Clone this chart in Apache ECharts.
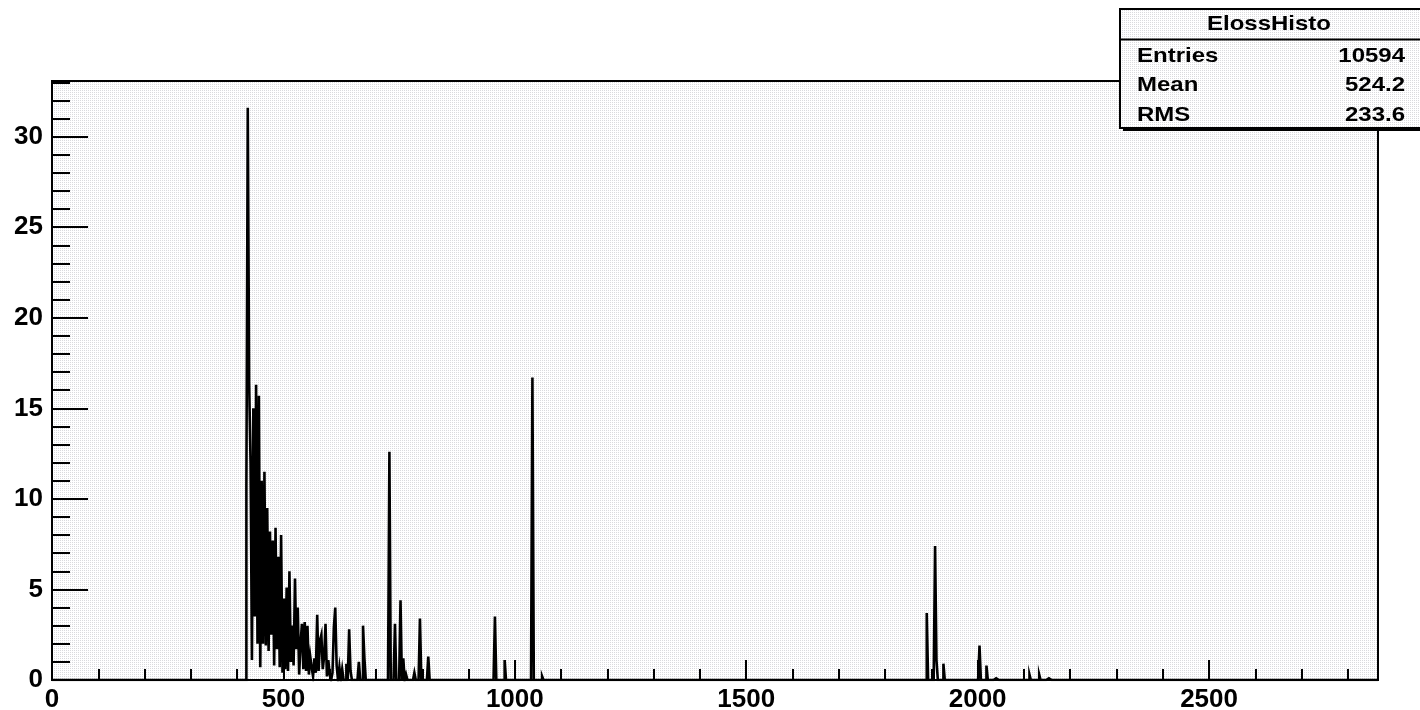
<!DOCTYPE html>
<html>
<head>
<meta charset="utf-8">
<script src="https://cdn.jsdelivr.net/npm/echarts@6/dist/echarts.min.js"></script>
<style>
  html, body { margin: 0; padding: 0; background: #ffffff; }
  #chart { width: 1420px; height: 710px; }
</style>
</head>
<body>
<div id="chart"></div>
<script>
// ElossHisto: fixed-width bins over [0, X_MAX], weighted bin contents
const X_MAX = 2865;
const BIN_WIDTH = 3;
const Y_MAX = 33.075;

// Contiguous block of filled bins, first bin index DENSE_FIRST_BIN
const DENSE_FIRST_BIN = 140;
const denseContents = [
  10.8, 31.6, 16.4, 12.0, 1.1, 15.0, 3.5, 16.3, 2.0, 15.7,
  0.7, 11.0, 2.0, 11.5, 1.9, 9.5, 1.6, 8.2, 2.5, 7.7,
  0.8, 8.4, 1.7, 6.8, 0.7, 8.0, 0.4, 4.5, 0.6, 5.1,
  0.5, 6.0, 1.0, 3.0, 0.8, 5.6, 1.7, 4.0, 0.3, 2.0,
  3.1, 0.6, 3.2, 0.5, 3.0, 0.3, 1.3, 0.7, 0.2, 1.2,
  0.4, 3.6, 0.5, 2.2, 2.5, 0.6, 1.3, 3.1, 0.2, 1.1,
  0.3, 0.0, 0.4, 2.9, 4.0, 0.8, 0.0, 0.7, 0.0, 0.6,
  0.0, 0.0, 0.9, 0.0, 2.8, 0.5, 0.0, 0.0, 0.0, 0.0,
  0.0, 1.0, 0.0, 0.0, 3.0, 1.2
];

// Isolated filled bins further out: energy loss and bin content
const peakEloss = [
  731, 742, 755, 761, 767, 783, 797, 813,
  959, 980, 1039, 1061,
  1891, 1908, 1911, 1926, 2004, 2019, 2037, 2114, 2133, 2152
];
const peakContent = [
  12.6, 3.1, 4.4, 1.2, 0.3, 0.4, 3.4, 1.3,
  3.5, 1.1, 16.7, 0.2,
  3.7, 7.4, 1.1, 0.9, 1.9, 0.8, 0.1, 0.3, 0.3, 0.1
];

// Statistics box
const statTitle = 'ElossHisto';
const statNames = ['Entries', 'Mean', 'RMS'];
const statValues = ['10594', '524.2', '233.6'];

// Build the full bin array and the step outline
const nBins = Math.round(X_MAX / BIN_WIDTH);
const contents = new Array(nBins).fill(0);
denseContents.forEach((v, i) => { contents[DENSE_FIRST_BIN + i] = v; });
peakEloss.forEach((x, i) => { contents[Math.floor(x / BIN_WIDTH)] = peakContent[i]; });
const stepData = contents.map((v, k) => [k * BIN_WIDTH, v]);
stepData.push([nBins * BIN_WIDTH, 0]);

// Fine dotted fill used for the frame and the stats box
const dot = document.createElement('canvas');
dot.width = 2; dot.height = 2;
const g = dot.getContext('2d');
g.fillStyle = '#ffffff'; g.fillRect(0, 0, 2, 2);
g.fillStyle = '#dadadd'; g.fillRect(0, 0, 1, 1);
const dotted = { image: dot, repeat: 'repeat' };

const FONT = 'Liberation Sans';
const BOX_FONT = 'bold 20.5px "Liberation Sans"';
const BOX_STRETCH = 1.17;

const chart = echarts.init(document.getElementById('chart'), null, { renderer: 'canvas' });

const box = { x: 1120, y: 9, w: 305, h: 119 };

chart.setOption({
  animation: false,
  backgroundColor: '#ffffff',
  grid: {
    left: 52, right: 42, top: 81, bottom: 30,
    containLabel: false,
    outerBoundsMode: 'none',
    show: true,
    backgroundColor: dotted,
    borderColor: '#000000',
    borderWidth: 2
  },
  xAxis: [
    {
      type: 'value', min: 0, max: X_MAX, interval: 500, position: 'bottom',
      axisLine: { show: true, onZero: false, lineStyle: { color: '#000', width: 2 } },
      axisTick: { show: true, inside: true, length: 20, lineStyle: { color: '#000', width: 2 } },
      axisLabel: {
        show: true, margin: 7, color: '#000', fontFamily: FONT, fontWeight: 'bold', fontSize: 26,
        showMaxLabel: false,
        formatter: v => (v % 500 === 0 ? String(v) : '')
      },
      splitLine: { show: false }
    },
    {
      type: 'value', min: 0, max: X_MAX, interval: 100, position: 'bottom',
      axisLine: { show: false },
      axisTick: { show: true, inside: true, length: 11, lineStyle: { color: '#000', width: 2 } },
      axisLabel: { show: false },
      splitLine: { show: false }
    }
  ],
  yAxis: [
    {
      type: 'value', min: 0, max: Y_MAX, interval: 5, position: 'left',
      axisLine: { show: true, onZero: false, lineStyle: { color: '#000', width: 2 } },
      axisTick: { show: true, inside: true, length: 36, lineStyle: { color: '#000', width: 2 } },
      axisLabel: {
        show: true, margin: 9, color: '#000', fontFamily: FONT, fontWeight: 'bold', fontSize: 26,
        showMaxLabel: false,
        formatter: v => (v % 5 === 0 ? String(v) : '')
      },
      splitLine: { show: false }
    },
    {
      type: 'value', min: 0, max: Y_MAX, interval: 1, position: 'left',
      axisLine: { show: false },
      axisTick: { show: true, inside: true, length: 18, lineStyle: { color: '#000', width: 2 } },
      axisLabel: { show: false },
      splitLine: { show: false }
    }
  ],
  series: [
    {
      name: statTitle,
      type: 'line',
      xAxisIndex: 0,
      yAxisIndex: 0,
      step: 'end',
      data: stepData,
      showSymbol: false,
      symbol: 'none',
      silent: true,
      clip: true,
      lineStyle: { color: '#000000', width: 2.6, cap: 'butt', join: 'miter' },
      z: 3
    }
  ],
  graphic: [
    // shadow
    { type: 'rect', z: 100, silent: true,
      shape: { x: box.x + 3, y: box.y + 3, width: box.w, height: box.h },
      style: { fill: '#000000' } },
    // box
    { type: 'rect', z: 101, silent: true,
      shape: { x: box.x, y: box.y, width: box.w, height: box.h },
      style: { fill: dotted, stroke: '#000000', lineWidth: 2 } },
    // title separator
    { type: 'line', z: 102, silent: true,
      shape: { x1: box.x, y1: 39.5, x2: box.x + box.w, y2: 39.5 },
      style: { stroke: '#000000', lineWidth: 2 } },
    { type: 'text', z: 103, silent: true, x: 1269, y: 24.5, scaleX: BOX_STRETCH,
      style: { text: statTitle, fill: '#000', font: BOX_FONT,
               textAlign: 'center', textVerticalAlign: 'middle' } },
    ...statNames.map((name, i) => ({
      type: 'text', z: 103, silent: true, x: 1137, y: 56 + i * 29.5, scaleX: BOX_STRETCH,
      style: { text: name, fill: '#000', font: BOX_FONT,
               textAlign: 'left', textVerticalAlign: 'middle' }
    })),
    ...statValues.map((val, i) => ({
      type: 'text', z: 103, silent: true, x: 1405, y: 56 + i * 29.5, scaleX: BOX_STRETCH,
      style: { text: val, fill: '#000', font: BOX_FONT,
               textAlign: 'right', textVerticalAlign: 'middle' }
    }))
  ]
});
</script>
</body>
</html>
